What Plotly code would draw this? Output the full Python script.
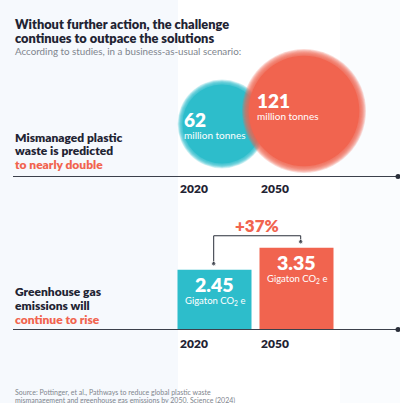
import plotly.graph_objects as go

# data
years = ['2020', '2050']
plastic_mt = [62, 121]
emissions_gt = [2.45, 3.35]

title_lines = ['Without further action, the challenge', 'continues to outpace the solutions']
subtitle = 'According to studies, in a business-as-usual scenario:'
plastic_label = ['Mismanaged plastic', 'waste is predicted', 'to nearly double']
emission_label = ['Greenhouse gas', 'emissions will', 'continue to rise']
source_lines = ['Source: Pottinger, et al., Pathways to reduce global plastic waste',
                'mismanagement and greenhouse gas emissions by 2050. Science (2024)']

W, H = 400, 403
TEAL = '#2dbdcb'
RED = '#f1644f'
NAVY = '#1f2433'
GREY = '#80858d'
FONT = 'Lato'

# pixel layout (x from left, y from top)
bubble_x = [222, 304]
bubble_y = [124, 111]
bar_x = [214.5, 296.5]
bar_w = 74
year_x = [178, 259]
axis1_y, axis2_y = 176.5, 329.5
px_per_unit = 24.4
bar_top_px = 200


def py(v):
    return 1 - v / H


fig = go.Figure()

# bubbles, soft edges built from stacked translucent layers
dmax = 124
sizeref = 2 * max(plastic_mt) / dmax ** 2
for i, (val, col) in enumerate(zip(plastic_mt, [TEAL, RED])):
    for k in range(10):
        f = 1.0 - k * 0.012
        fig.add_trace(go.Scatter(
            x=[bubble_x[i]], y=[bubble_y[i]], mode='markers',
            marker=dict(size=[val * f * f], sizemode='area', sizeref=sizeref,
                        color=col, opacity=0.2 if k < 9 else 1.0, line=dict(width=0)),
            hoverinfo='skip', showlegend=False))

# bars
fig.add_trace(go.Bar(x=bar_x, y=emissions_gt, width=bar_w, marker=dict(color=[TEAL, RED], line=dict(width=0)),
                     yaxis='y2', hoverinfo='skip', showlegend=False))

# bracket between the bars
gap = 6 / px_per_unit
top = max(emissions_gt) + 12 / px_per_unit
bx = [213.7, 213.7, 300.7, 300.7]
fig.add_trace(go.Scatter(
    x=bx, y=[emissions_gt[0] + gap, top, top, emissions_gt[1] + gap],
    mode='lines+markers', yaxis='y2',
    line=dict(color='#2a2f3a', width=1),
    marker=dict(size=[4.5, 0, 0, 4.5], color='#2a2f3a'),
    hoverinfo='skip', showlegend=False))

pct = round((emissions_gt[1] / emissions_gt[0] - 1) * 100)

ann = []


def txt(x, y, s, size, color=NAVY, bold=True, xanchor='left'):
    ann.append(dict(x=x, y=py(y), xref='x', yref='paper', text=s, showarrow=False,
                    xanchor=xanchor, yanchor='middle',
                    font=dict(family=FONT, size=size, color=color, weight=800 if bold else 400)))


txt(13, 23.5, title_lines[0], 12.8)
txt(13, 37.5, title_lines[1], 12.8)
txt(13, 51, subtitle, 9.8, color=GREY, bold=False)

for j, line in enumerate(plastic_label):
    txt(13, 137 + j * 13.8, line, 12, color=RED if j == 2 else NAVY)
for j, line in enumerate(emission_label):
    txt(13, 291.5 + j * 13.8, line, 12, color=RED if j == 2 else NAVY)

# bubble labels
txt(182, 119, str(plastic_mt[0]), 19, color='white')
txt(182, 135, 'million tonnes', 10, color='white', bold=False)
txt(255, 100, str(plastic_mt[1]), 19, color='white')
txt(255, 115.5, 'million tonnes', 10, color='white', bold=False)

# bar labels
for i, v in enumerate(emissions_gt):
    top_px = axis2_y - v * px_per_unit
    txt(bar_x[i], top_px + 15, f'{v:.2f}', 19.5, color='white', xanchor='center')
    txt(bar_x[i], top_px + 31, 'Gigaton CO<sub>2</sub> e', 9.5, color='white', bold=False, xanchor='center')

txt(257, 225, f'+{pct}%', 17, color=RED, xanchor='center')

# year labels
for i, yr in enumerate(years):
    txt(year_x[i], 188.5, yr, 12)
    txt(year_x[i], 343, yr, 12)

txt(13, 392, source_lines[0], 7, color=GREY, bold=False)
txt(13, 400, source_lines[1], 7, color=GREY, bold=False)

shapes = [
    # faint background tint
    dict(type='rect', xref='x', yref='paper', x0=0, x1=178, y0=0, y1=1, fillcolor='rgba(228,239,248,0.35)', line_width=0, layer='below'),
    dict(type='rect', xref='x', yref='paper', x0=340, x1=400, y0=0, y1=1, fillcolor='rgba(228,239,248,0.2)', line_width=0, layer='below'),
]
for ay in [axis1_y, axis2_y]:
    shapes.append(dict(type='line', xref='x', yref='paper', x0=13, x1=398, y0=py(ay), y1=py(ay),
                       line=dict(color='#3b404b', width=1.2)))
    shapes.append(dict(type='circle', xref='x', yref='paper', x0=395.5, x1=400.5,
                       y0=py(ay + 2.5), y1=py(ay - 2.5), fillcolor='#2a2f3a', line_width=0))

fig.update_layout(
    width=W, height=H, margin=dict(l=0, r=0, t=0, b=0),
    paper_bgcolor='white', plot_bgcolor='rgba(0,0,0,0)',
    xaxis=dict(range=[0, W], visible=False, fixedrange=True),
    yaxis=dict(range=[H, 0], visible=False, fixedrange=True),
    yaxis2=dict(domain=[py(axis2_y), py(bar_top_px)], range=[0, (axis2_y - bar_top_px) / px_per_unit],
                anchor='x', visible=False, fixedrange=True),
    annotations=ann, shapes=shapes, showlegend=False,
)

# drop the default page margin so the figure sits at the window's corner
fig.write_html('out.html', config={'displayModeBar': False},
               post_script="document.body.style.margin='0';")
